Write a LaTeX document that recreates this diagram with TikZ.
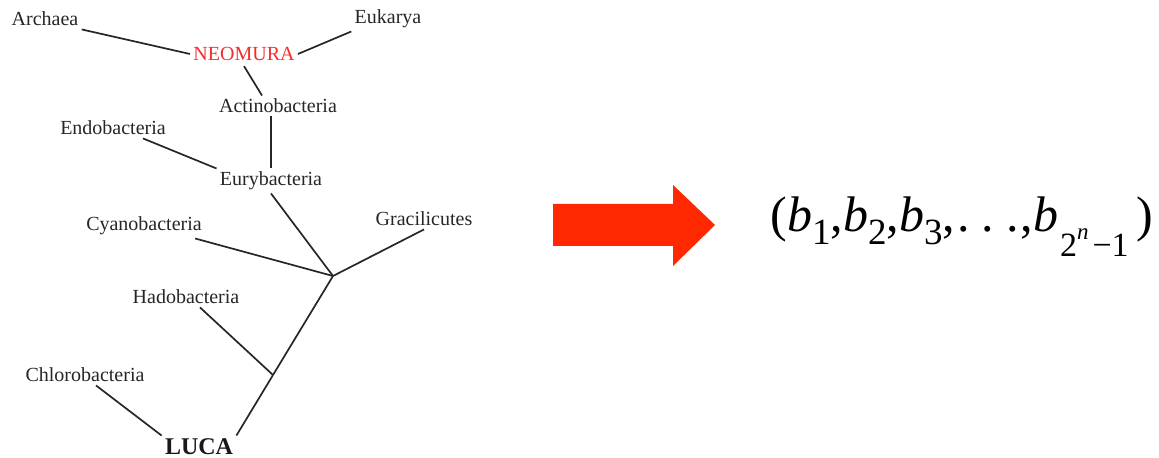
\documentclass[tikz,border=0pt]{standalone}
\usepackage{fontspec}
\setmainfont{Liberation Serif}
\usepackage{xcolor}
\usepackage{tikz}
\usetikzlibrary{positioning}

\definecolor{arrowred}{RGB}{255,40,0}
\definecolor{neored}{RGB}{245,45,45}

\begin{document}
\begin{tikzpicture}[x=0.5pt, y=-0.5pt,
  every node/.style={inner sep=1.5pt},
  taxon/.style={font=\fontsize{10}{12}\selectfont, text=black!85},
  root/.style ={font=\fontsize{12}{14}\selectfont\bfseries, text=black!90},
  branch/.style={line width=0.85pt, black!85}
]
  \useasboundingbox (0,0) rectangle (1159,458);

  % tree labels
  \node[taxon]                 (arch)   at (45,19)   {Archaea};
  \node[taxon]                 (euk)    at (388,19)  {Eukarya};
  \node[taxon, text=neored]    (neo)    at (244,54)  {NEOMURA};
  \node[taxon]                 (act)    at (278,106) {Actinobacteria};
  \node[taxon]                 (endo)   at (113,128) {Endobacteria};
  \node[taxon]                 (eury)   at (271,181) {Eurybacteria};
  \node[taxon]                 (cyano)  at (144,226) {Cyanobacteria};
  \node[taxon]                 (graci)  at (424,219) {Gracilicutes};
  \node[taxon]                 (hado)   at (186,297) {Hadobacteria};
  \node[taxon]                 (chloro) at (85,375)  {Chlorobacteria};
  \node[root]                  (luca)   at (199,447) {LUCA};

  \coordinate (j1) at (333,276);
  \coordinate (j2) at (273,375);

  % branches
  \draw[branch] (arch.south east) -- (neo.west);
  \draw[branch] (neo.east) -- (euk.south west);
  \draw[branch] ([yshift=-1pt]neo.south) -- ([xshift=-8pt]act.north);
  \draw[branch] (eury.north |- act.south) -- (eury.north);
  \draw[branch] ([xshift=15pt]endo.south) -- (eury.north west);
  \draw[branch] (eury.south) -- (j1);
  \draw[branch] ([xshift=-5pt]cyano.south east) -- (j1);
  \draw[branch] (graci.south) -- (j1);
  \draw[branch] (j1) -- (j2);
  \draw[branch] ([xshift=7pt]hado.south) -- (j2);
  \draw[branch] (j2) -- (luca.north east);
  \draw[branch] ([xshift=5.5pt]chloro.south) -- (luca.north west);

  % big arrow
  \fill[arrowred] (553,204) -- (673,204) -- (673,185) -- (715,225)
                  -- (673,266) -- (673,246) -- (553,246) -- cycle;

  % bit string
  \node[anchor=base west, inner sep=0, font=\fontsize{25}{30}\selectfont] (bits) at (770,232)
    {(\textit{b}\raisebox{-6.5pt}{\fontsize{18.5}{20}\selectfont 1},%
      \textit{b}\raisebox{-6.5pt}{\fontsize{18.5}{20}\selectfont 2},%
      \textit{b}\raisebox{-6.5pt}{\fontsize{18.5}{20}\selectfont 3},%
      \kern1pt.\kern6pt.\kern6pt.\kern1pt,%
      \textit{b}\raisebox{-12.5pt}{\fontsize{17}{19}\selectfont\kern1pt 2\raisebox{0.5em}{\fontsize{11.5}{12}\selectfont\textit{n}}\kern2pt−1}\kern4pt)};
\end{tikzpicture}
\end{document}
